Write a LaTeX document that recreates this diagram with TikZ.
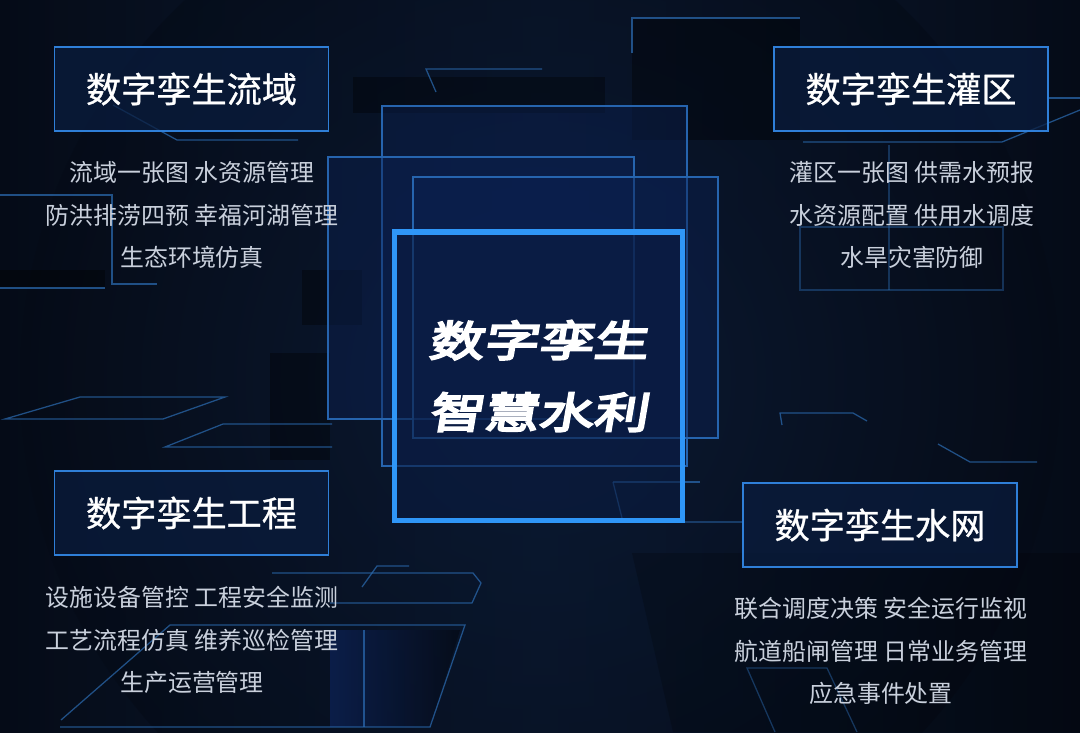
\documentclass[tikz,border=0pt]{standalone}
\usepackage{fontspec}
\newfontfamily\cjk{Noto Sans CJK SC}
\newfontfamily\cjktag[FakeBold=0.8]{Noto Sans CJK SC}
\newfontfamily\cjkhead[FakeSlant=0.17,FakeBold=5,FakeStretch=1.3]{Noto Sans CJK SC}
\definecolor{bgdark}{HTML}{050B17}
\definecolor{bgmid}{HTML}{0B1A33}
\definecolor{tagblue}{HTML}{2F7FD8}
\definecolor{tagfill}{HTML}{0A1C3D}
\definecolor{hubblue}{HTML}{2F96F7}
\definecolor{hubfill}{HTML}{0A1B40}
\definecolor{panelblue}{HTML}{2664AE}
\definecolor{panelfill}{HTML}{0C2152}
\definecolor{decoblue}{HTML}{2C6DB4}
\definecolor{itemgray}{HTML}{C9D0DC}

\begin{document}
\begin{tikzpicture}[
            x = 0.025cm, y = -0.025cm,
            every node/.style={inner sep=0pt, text=itemgray},
            tagbox/.style={draw=tagblue, line width=1.3pt, fill=tagfill, fill opacity=.75, text opacity=1,
                minimum width=6.85cm, minimum height=2.1cm, text=white, font=\cjktag\fontsize{25}{30}\selectfont},
            items/.style={align=center, font=\cjk\fontsize{17}{30}\selectfont},
            hub/.style={draw=hubblue, line width=3.6pt, fill=hubfill, fill opacity=.6, text opacity=1,
                minimum width=7.2cm, minimum height=7.2cm},
            hubtext/.style={align=center, text=white, font=\cjkhead\fontsize{30}{51}\selectfont},
            panel/.style={draw=panelblue, line width=1.2pt, fill=panelfill, fill opacity=.45},
            deco/.style={draw=decoblue, line width=.9pt, draw opacity=.7},
            shadow/.style={fill=black, fill opacity=.35},
            ]

        \useasboundingbox (0, 0) rectangle (1080, 732);
        \shade[left color=bgdark, right color=bgdark, middle color=bgmid] (0, 0) rectangle (1080, 732);
        \shade[inner color=bgmid, outer color=bgdark, opacity=.6] (540, 380) circle (520);

        \fill[shadow] (353, 77) rectangle (605, 113);
        \fill[shadow] (632, 18) rectangle (800, 140);
        \fill[shadow] (0, 270) rectangle (105, 288);
        \fill[shadow] (270, 353) rectangle (330, 460);
        \fill[shadow] (302, 270) rectangle (362, 325);
        \fill[shadow, fill opacity=.2] (632, 553) -- (1080, 553) -- (1080, 732) -- (673, 732) -- cycle;

        \draw[panel] (382, 106) rectangle (687, 466);
        \draw[panel] (328, 157) rectangle (634, 419);
        \draw[panel] (413, 177) rectangle (718, 438);

        \draw[deco] (113, 105) -- (177, 140) -- (298, 140);
        \draw[deco] (0, 195) -- (112, 195) -- (112, 284) -- (157, 284);
        \draw[deco] (0, 288) -- (105, 288);
        \draw[deco] (5, 419) -- (80, 397) -- (225, 397) -- (163, 419) -- cycle;
        \draw[deco] (332, 424) -- (223, 424) -- (165, 447) -- (332, 447);
        \draw[deco] (436, 92) -- (426, 69) -- (542, 69);
        \draw[deco] (632, 53) -- (632, 18) -- (800, 18);
        \draw[deco] (803, 142) -- (1002, 142) -- (1080, 110);
        \draw[deco] (1047, 98) -- (1080, 98);
        \draw[deco, draw opacity=.4] (800, 227) rectangle (1003, 290);
        \draw[deco, draw opacity=.4] (889, 145) -- (889, 290);
        \draw[deco] (782, 425) -- (780, 413) -- (853, 413) -- (867, 421);
        \draw[deco] (938, 444) -- (970, 462) -- (1037, 462);
        \draw[deco] (613, 482) -- (700, 482);
        \draw[deco] (613, 482) -- (623, 522) -- (743, 522);
        \draw[deco, draw opacity=.45] (775, 732) -- (747, 668) -- (827, 668) -- (857, 732);
        \draw[deco] (362, 587) -- (377, 566) -- (409, 566);
        \draw[deco] (272, 573) -- (473, 573) -- (481, 583) -- (472, 603) -- (330, 603);
        \shade[left color=panelfill, right color=bgdark, opacity=.8] (330, 630) -- (460, 630) -- (430, 727) -- (330, 727) -- cycle;
        \draw[deco] (364, 630) -- (364, 727);
        \draw[deco] (61, 720) -- (170, 625) -- (465, 625) -- (430, 727) -- (60, 727);

        \node[hub] (hub) at (538.5, 376) {};
        \node[hubtext] (hubtitle) at (538, 376) {数字孪生\\智慧水利};

        \node[tagbox] (liuyu) at (191.5, 89) {数字孪生流域};
        \node[tagbox] (guanqu) at (911, 89) {数字孪生灌区};
        \node[tagbox] (gongcheng) at (191.5, 513) {数字孪生工程};
        \node[tagbox] (shuiwang) at (880, 525) {数字孪生水网};

        \node[items] (liuyu-items) at (192, 215) {流域一张图 水资源管理\\防洪排涝四预 幸福河湖管理\\生态环境仿真};
        \node[items] (guanqu-items) at (912, 215) {灌区一张图 供需水预报\\水资源配置 供用水调度\\水旱灾害防御};
        \node[items] (gongcheng-items) at (192, 640) {设施设备管控 工程安全监测\\工艺流程仿真 维养巡检管理\\生产运营管理};
        \node[items] (shuiwang-items) at (881, 651) {联合调度决策 安全运行监视\\航道船闸管理 日常业务管理\\应急事件处置};
    \end{tikzpicture}
\end{document}
